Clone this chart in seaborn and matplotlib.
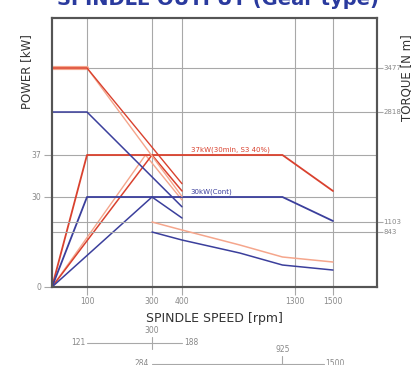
import matplotlib
matplotlib.use("Agg")
import matplotlib.pyplot as plt
import matplotlib.transforms as mtransforms
import numpy as np
import pandas as pd
import seaborn as sns

# spindle speed axis (rpm) - chart uses a schematic, piecewise scale
speed_ticks = [100, 300, 400, 1300, 1500]
speed_labels = ["100", "300", "400", "1300", "1500"]
power_ticks = [0, 30, 37]
torque_ticks = [843, 1103, 2818, 3477]

# output curves, high gear
hi_speed = [0, 100, 1200, 1500]
hi_s3_power = [0, 37, 37, 31]
hi_cont_power = [0, 30, 30, 22]

# output curves, low gear
lo_speed = [0, 300, 400]
lo_s3_power = [0, 37, 31]
lo_cont_power = [0, 30, 23]
lo_light_speed = [0, 280, 400]
lo_light_power = [0, 37, 29]

# torque, low gear
tq_lo_speed = [0, 100, 400]
tq_lo_s3 = [3477, 3477, 1700]
tq_lo_light = [3477, 3477, 1500]
tq_lo_cont = [2818, 2818, 1340]

# torque, high gear
tq_hi_speed = [300, 400, 860, 1200, 1500]
tq_hi_s3 = [1103, 895, 644, 460, 383]
tq_hi_cont = [843, 720, 521, 337, 260]

RED = "#d9412e"
SALMON = "#f5a68c"
BLUE = "#3b3f9c"
GRID = "#a8a8a8"
TXT = "#888888"


def piecewise(bp, px):
    bp = np.asarray(bp, float)
    px = np.asarray(px, float)
    return (lambda v: np.interp(v, bp, px), lambda v: np.interp(v, px, bp))


sns.set_theme(style="white")
plt.rcParams["font.family"] = ["DejaVu Sans"]

fig = plt.figure(figsize=(4.11, 3.65), dpi=100)
ax = fig.add_axes([52 / 411, 78 / 365, 325 / 411, 269 / 365])

ax.set_xscale("function", functions=piecewise([0, 100, 300, 400, 1300, 1500, 1800],
                                               [0, 35, 100, 130, 243, 281, 325]))
ax.set_yscale("function", functions=piecewise([0, 30, 37, 60], [0, 90, 132, 269]))
ax.set_xlim(0, 1800)
ax.set_ylim(0, 60)

ax2 = ax.twinx()
ax2.set_yscale("function", functions=piecewise([0, 843, 1103, 2818, 3477, 4240],
                                                [0, 55, 65, 175, 219, 269]))
ax2.set_ylim(0, 4240)

# grid
for s in speed_ticks:
    ax.axvline(s, color=GRID, lw=0.8, zorder=1)
for p in power_ticks[1:]:
    ax.axhline(p, color=GRID, lw=0.8, zorder=1)
for t in torque_ticks:
    ax2.axhline(t, color=GRID, lw=0.8, zorder=1)

# power
sns.lineplot(x=lo_light_speed, y=lo_light_power, ax=ax, color=SALMON, lw=1.0, sort=False, estimator=None)
sns.lineplot(x=hi_speed, y=hi_s3_power, ax=ax, color=RED, lw=1.3, sort=False, estimator=None)
sns.lineplot(x=lo_speed, y=lo_s3_power, ax=ax, color=RED, lw=1.1, sort=False, estimator=None)
sns.lineplot(x=hi_speed, y=hi_cont_power, ax=ax, color=BLUE, lw=1.3, sort=False, estimator=None)
sns.lineplot(x=lo_speed, y=lo_cont_power, ax=ax, color=BLUE, lw=1.1, sort=False, estimator=None)

# torque
sns.lineplot(x=tq_lo_speed, y=tq_lo_light, ax=ax2, color=SALMON, lw=1.0, sort=False, estimator=None)
sns.lineplot(x=tq_lo_speed[:2], y=tq_lo_light[:2], ax=ax2, color=SALMON, lw=3.0, sort=False, estimator=None)
sns.lineplot(x=tq_lo_speed, y=tq_lo_s3, ax=ax2, color=RED, lw=1.0, sort=False, estimator=None)
sns.lineplot(x=tq_lo_speed, y=tq_lo_cont, ax=ax2, color=BLUE, lw=1.1, sort=False, estimator=None)
sns.lineplot(x=tq_hi_speed, y=tq_hi_s3, ax=ax2, color=SALMON, lw=1.1, sort=False, estimator=None)
sns.lineplot(x=tq_hi_speed, y=tq_hi_cont, ax=ax2, color=BLUE, lw=1.1, sort=False, estimator=None)

ax.text(470, 37.3, "37kW(30min, S3 40%)", color=RED, fontsize=5, va="bottom")
ax.text(470, 30.3, "30kW(Cont)", color=BLUE, fontsize=5, va="bottom")

# ticks and frame
ax.set_xticks(speed_ticks)
ax.set_xticklabels(speed_labels)
ax.set_yticks(power_ticks)
ax.set_yticklabels([str(p) for p in power_ticks])
ax2.set_yticks(torque_ticks)
ax2.set_yticklabels([str(t) for t in torque_ticks])
ax.tick_params(axis="both", labelsize=5.5, labelcolor=TXT, color=GRID,
               length=6, width=0.8, pad=1.5, left=True, bottom=True)
ax2.tick_params(axis="y", labelsize=5, labelcolor=TXT, color=GRID,
                length=4, width=0.8, pad=0.5, right=True)
for a in (ax, ax2):
    for sp in a.spines.values():
        sp.set_color("#555555")
        sp.set_linewidth(1.5)

ax.set_xlabel("SPINDLE SPEED [rpm]", fontsize=9, color="#333333", labelpad=4)
ax.set_ylabel("")
fig.text(27 / 411, 1 - 72 / 365, "POWER [kW]", rotation=90, fontsize=8.5,
         color="#333333", ha="center", va="center")
fig.text(407 / 411, 1 - 78 / 365, "TORQUE [N m]", rotation=90, fontsize=8.5,
         color="#333333", ha="center", va="center")

# title (only lower part visible)
fig.text(218 / 411, 1 - 5 / 365, "SPINDLE OUTPUT (Gear type)", fontsize=14,
         fontweight="bold", color="#2a3a9e", ha="center", va="baseline")

# gear ranges below the chart
trans = mtransforms.blended_transform_factory(ax.transData, ax.transAxes)
ax.plot([100, 400], [-0.208, -0.208], color=GRID, lw=0.8, transform=trans, clip_on=False)
ax.plot([300, 300], [-0.23, -0.185], color=GRID, lw=0.8, transform=trans, clip_on=False)
ax.text(95, -0.208, "121", fontsize=5.5, color=TXT, ha="right", va="center", transform=trans)
ax.text(420, -0.208, "188", fontsize=5.5, color=TXT, ha="left", va="center", transform=trans)
ax.text(300, -0.18, "300", fontsize=5.5, color=TXT, ha="center", va="bottom", transform=trans)
ax.plot([300, 1450], [-0.285, -0.285], color=GRID, lw=0.8, transform=trans, clip_on=False)
ax.plot([1200, 1200], [-0.30, -0.255], color=GRID, lw=0.8, transform=trans, clip_on=False)
ax.text(290, -0.285, "284", fontsize=5.5, color=TXT, ha="right", va="center", transform=trans)
ax.text(1460, -0.285, "1500", fontsize=5.5, color=TXT, ha="left", va="center", transform=trans)
ax.text(1200, -0.25, "925", fontsize=5.5, color=TXT, ha="center", va="bottom", transform=trans)

fig.savefig("out.png", dpi=100)
